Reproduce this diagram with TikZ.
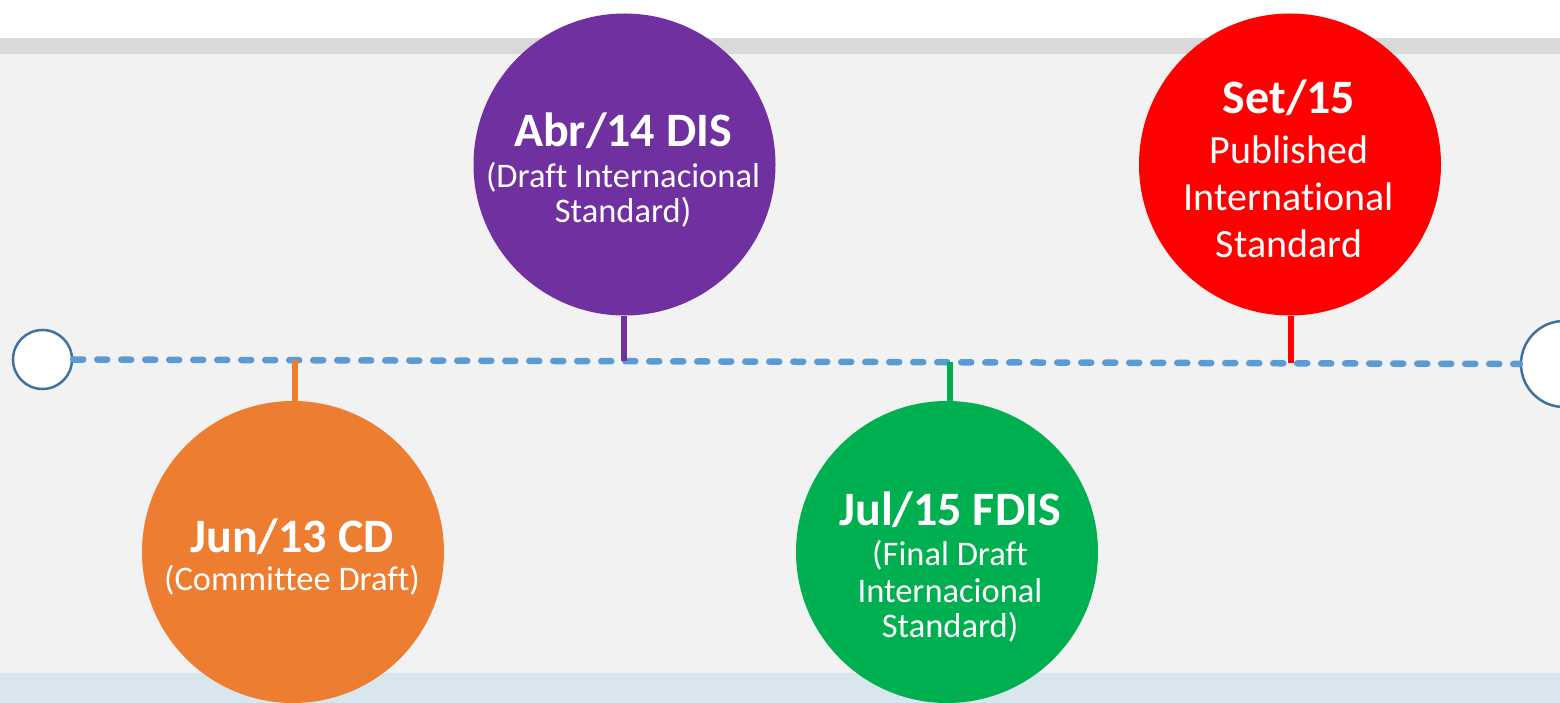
\documentclass[tikz,border=0pt]{standalone}
\usepackage{fontspec}
\setmainfont{Carlito}[Ligatures=NoCommon]
\usetikzlibrary{calc}
\definecolor{bandgray}{HTML}{D9D9D9}
\definecolor{panelgray}{HTML}{F2F2F2}
\definecolor{footblue}{HTML}{DAE6EE}
\definecolor{lineblue}{HTML}{5B9BD5}
\definecolor{ringblue}{HTML}{41719C}
\definecolor{cdorange}{HTML}{ED7D31}
\definecolor{dispurple}{HTML}{7030A0}
\definecolor{fdisgreen}{HTML}{00B050}
\definecolor{isred}{HTML}{FF0000}
\tikzset{
  endpt/.style={circle, draw=ringblue, line width=2.5pt, fill=white, inner sep=0pt, minimum size=59pt},
  milestone/.style={circle, draw=none, inner sep=0pt, minimum size=302pt},
  timeline/.style={draw=lineblue, line width=6.5pt, line cap=round, dash pattern=on 10pt off 14pt},
  stem/.style={line width=6pt},
  title/.style={text=white, anchor=base, inner sep=0pt, font=\fontsize{48}{48}\selectfont\bfseries},
  sub/.style={text=white, anchor=base, inner sep=0pt, font=\fontsize{34.5}{34.5}\selectfont},
  subbig/.style={text=white, anchor=base, inner sep=0pt, font=\fontsize{40}{40}\selectfont},
}
\begin{document}
\begin{tikzpicture}[x=1pt,y=-1pt]
\useasboundingbox (0,0) rectangle (1560,703);
\clip (0,0) rectangle (1560,703);
% page bands
\fill[white] (0,0) rectangle (1560,38);
\fill[bandgray] (0,38) rectangle (1560,54);
\fill[panelgray] (0,54) rectangle (1560,673);
\fill[footblue] (0,673) rectangle (1560,703);

% timeline ends
\node[endpt] (start) at (42.5,359.5) {};
\node[endpt, minimum size=86pt] (finish) at (1564,364) {};
\draw[timeline] (start.east) -- (finish.west);

% milestones
\node[milestone, fill=cdorange] (cd) at (293,552) {};
\node[milestone, fill=dispurple] (dis) at (624.5,164.5) {};
\node[milestone, fill=fdisgreen] (fdis) at (947,552) {};
\node[milestone, fill=isred] (is) at (1290,164.5) {};

% stems joining each milestone to the timeline
\coordinate (tcd) at ($(start.east)!(295,380)!(finish.west)$);
\coordinate (tdis) at ($(start.east)!(624,340)!(finish.west)$);
\coordinate (tfdis) at ($(start.east)!(950,380)!(finish.west)$);
\coordinate (tis) at ($(start.east)!(1291,340)!(finish.west)$);
\draw[stem, cdorange] (tcd) -- (tcd|-cd.north);
\draw[stem, dispurple] (tdis) -- (tdis|-dis.south);
\draw[stem, fdisgreen] (tfdis) -- (tfdis|-fdis.north);
\draw[stem, isred] (tis) -- (tis|-is.south);

% labels
\node[title] (cd-t) at (292,552) {Jun/13 CD};
\node[sub] (cd-s) at (292,590) {(Committee Draft)};

\node[title] (dis-t) at (623,147) {Abr/14 DIS};
\node[sub] (dis-s1) at (623,188) {(Draft Internacional};
\node[sub] (dis-s2) at (623,223) {Standard)};

\node[title] (fdis-t) at (950,525) {Jul/15 FDIS};
\node[sub] (fdis-s1) at (950,565) {(Final Draft};
\node[sub] (fdis-s2) at (950,602) {Internacional};
\node[sub] (fdis-s3) at (950,637) {Standard)};

\node[title] (is-t) at (1289,114) {Set/15};
\node[subbig] (is-s1) at (1289,164) {Published};
\node[subbig] (is-s2) at (1289,211) {International};
\node[subbig] (is-s3) at (1289,258) {Standard};
\end{tikzpicture}
\end{document}
